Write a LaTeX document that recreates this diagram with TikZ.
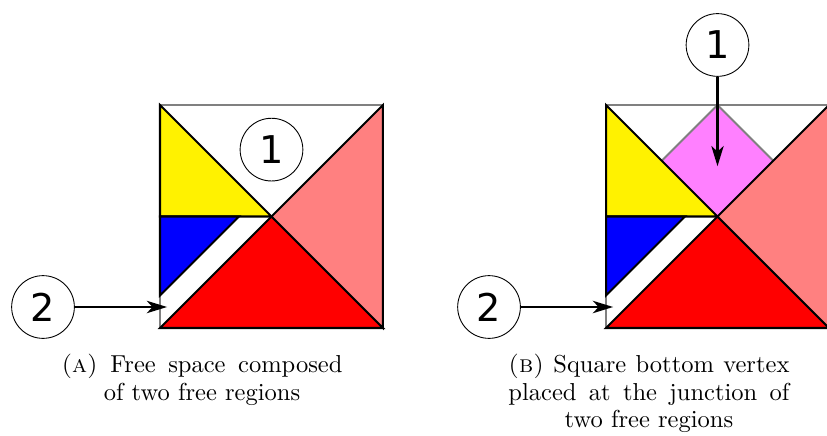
\documentclass[tikz,border=0pt]{standalone}
\usepackage{fontspec}
\newfontfamily\numfont{DejaVu Sans}
\usetikzlibrary{arrows.meta, positioning}
\definecolor{salmon}{HTML}{FF8080}
\definecolor{violetpink}{HTML}{FF80FF}
\newcommand{\fullline}[1]{\makebox[4.39cm][s]{#1}}
\tikzset{
    piece/.style={draw=black, line width=0.9pt},
    frame/.style={draw=gray, line width=0.9pt},
    region/.style={draw, circle, thin, fill=white, minimum size=0.98cm, inner sep=0pt, font=\numfont\fontsize{17}{20}\selectfont},
    arrow/.style={-{Stealth[length=9pt, width=5.5pt, inset=2.5pt]}, line width=0.9pt},
    caption/.style={align=center, font=\fontsize{10.9}{12.2}\selectfont, inner sep=0pt, anchor=north}
}

\begin{document}
\begin{tikzpicture}
    \clip (0,0) rectangle (12.922,6.797);

    % square of the second figure
    \begin{scope}[shift={(9.469,1.672)}, scale=3.484]
        \fill [violetpink] (0.5,0.5) -- (0.75,0.75) -- (0.5,1) -- (0.25,0.75) -- cycle;
        \draw [frame] (0.25,0.75) -- (0.5,1) -- (0.75,0.75);
    \end{scope}

    % pieces, the same in both figures
    \foreach \sx in {2.5, 9.469} {
        \begin{scope}[shift={(\sx,1.672)}, scale=3.484]
            \draw [frame] (0,0) rectangle (1,1);
            \draw [piece, fill=yellow] (0,1) -- (0,0.5) -- (0.5,0.5) -- cycle;
            \draw [piece, fill=blue] (0,0.5) -- (0.354,0.5) -- (0,0.146) -- cycle;
            \draw [piece, fill=red] (0,0) -- (1,0) -- (0.5,0.5) -- cycle;
            \draw [piece, fill=salmon] (1,0) -- (1,1) -- (0.5,0.5) -- cycle;
        \end{scope}
    }

    % (a)
    \node [region] (oneA) at (4.242,4.459) {1};
    \node [region] (twoA) at (0.672,2.0) {2};
    \coordinate (tipA) at (2.61,2.0);
    \draw [arrow] (twoA) -- (tipA);
    \node [caption] (capA) at (3.156,1.27) {\fullline{\textsc{(a)} Free space composed}\\of two free regions};

    % (b)
    \node [region] (oneB) at (11.211,6.094) {1};
    \node [region] (twoB) at (7.641,2.0) {2};
    \coordinate (tipB) at (11.211,4.2);
    \coordinate (tipC) at (9.58,2.0);
    \draw [arrow] (oneB) -- (tipB);
    \draw [arrow] (twoB) -- (tipC);
    \node [caption] (capB) at (10.14,1.27) {\fullline{\textsc{(b)} Square bottom vertex}\\\fullline{placed at the junction of}\\two free regions};
\end{tikzpicture}
\end{document}
